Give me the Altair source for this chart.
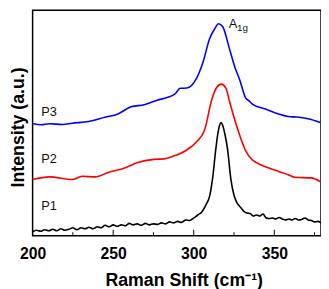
import altair as alt
import pandas as pd

# ---- data ----
p3_shift = [200, 205.3, 210.4, 218.5, 224.6, 234.8, 244.9, 253, 261.2, 269.3, 277.4, 283.5,
            288.6, 291.6, 295.7, 301.8, 305.9, 309.9, 313, 315.4, 318.1, 322.1, 326.2, 328.2,
            332.3, 334.3, 336.4, 344.5, 352.6, 358.7, 364, 370.9, 378.7]
p3_int = [114, 112.7, 113.7, 113, 114.3, 116, 120.3, 123.7, 131, 133, 137.7, 140.3,
          144.3, 149.7, 150, 160, 177, 200.3, 210, 215.3, 212, 190.3, 168, 160,
          139.7, 137, 133.7, 128.7, 123.7, 121, 120.5, 118.7, 115]

p2_shift = [200, 210.4, 224.6, 230.7, 238.8, 247, 257.1, 265.2, 275.4, 281.5, 287.6, 294.7,
            301.8, 306.9, 311, 314, 317.1, 320, 322.1, 327.3, 332, 336.4, 339.5, 344.5,
            352.6, 358.7, 362.8, 373, 378.7]
p2_int = [57, 59.7, 57, 60.3, 59.7, 64.3, 68.7, 74.3, 77.5, 78, 81, 86,
          95.3, 108, 137, 150, 154, 150, 137, 108, 87, 77, 73.7, 70,
          65.3, 62, 59.3, 58.7, 54.7]

p1_shift = [200, 202.5, 205, 207.5, 210, 212.5, 215, 217.5, 220, 222.5, 225, 227.5, 230, 232.5,
            235, 237.5, 240, 242.5, 245, 247.5, 250, 252.5, 255, 257.5, 260, 262.5, 265, 267.5,
            270, 272.5, 275, 277.5, 280, 282.5, 285, 287.5, 290, 292.5, 295, 297.5, 300, 302.5,
            305, 307.5, 310, 312, 313.5, 315, 316, 317, 318, 319.5, 321, 323, 325, 327, 329,
            331, 333, 335, 337, 339, 341, 343, 345, 347, 349, 351, 353, 355, 357, 359, 361,
            363, 365, 367, 369, 371, 373, 375, 377, 379]
p1_int = [4, 5.5, 4.5, 6, 5, 6.5, 5, 7, 5.5, 6.5, 8, 6, 8, 7,
          8.5, 7, 9, 8, 10.5, 9, 11, 9.5, 11, 10, 12.5, 11, 12, 10.5,
          12.5, 11, 12, 11.5, 13, 12, 14, 13, 14.5, 13.5, 16, 15.5, 18, 21,
          24, 31, 41, 62, 85, 104, 112, 115, 112, 102, 88, 58, 41, 33, 29,
          25, 23, 22.5, 20, 21, 20, 22, 18, 17.5, 18, 17, 18.5, 17, 16, 17, 16,
          17.5, 16, 16.5, 18, 16, 15.5, 14, 14.5, 13]

series_names = ["P1", "P2", "P3"]
series_colors = ["#000000", "#ff0000", "#0000ff"]
label_shift = [205.3, 205.3, 205.3]
label_int = [30, 78, 126]

major_ticks = [200, 250, 300, 350]
minor_ticks = [225, 275, 325, 375]

peak_label_shift = [321.7]
peak_label_int = [215]

W, H = 293, 229

rows = []
for name, xs, ys in [("P1", p1_shift, p1_int), ("P2", p2_shift, p2_int), ("P3", p3_shift, p3_int)]:
    for x, y in zip(xs, ys):
        rows.append({"shift": x, "intensity": y, "series": name})
df = pd.DataFrame(rows)

xscale = alt.Scale(domain=[200, 379], nice=False, zero=False)
yscale = alt.Scale(domain=[0, 229], nice=False, zero=False)

xaxis = alt.Axis(values=major_ticks, title="Raman Shift (cm⁻¹)", grid=False, domain=False,
                 ticks=False, labelFlush=False,
                 labelFont="Liberation Sans", labelFontSize=16, labelFontWeight="bold",
                 labelColor="black", labelPadding=10,
                 titleFont="Liberation Sans", titleFontSize=18, titleFontWeight="bold",
                 titleColor="black", titlePadding=11, titleX=W / 2 + 7)
yaxis = alt.Axis(title="Intensity (a.u.)", grid=False, domain=False, ticks=False, labels=False,
                 titleFont="Liberation Sans", titleFontSize=18, titleFontWeight="bold",
                 titleColor="black", titlePadding=5, titleY=H / 2 + 4)

lines = alt.Chart(df).mark_line(strokeWidth=1.6, interpolate="monotone").encode(
    x=alt.X("shift:Q", scale=xscale, axis=xaxis),
    y=alt.Y("intensity:Q", scale=yscale, axis=yaxis),
    color=alt.Color("series:N", scale=alt.Scale(domain=series_names, range=series_colors), legend=None),
    detail="series:N",
)

lab_df = pd.DataFrame({"shift": label_shift, "intensity": label_int, "text": series_names})
labels = alt.Chart(lab_df).mark_text(align="left", baseline="middle", font="Liberation Sans",
                                     fontSize=13, color="#111111").encode(
    x=alt.X("shift:Q", scale=xscale), y=alt.Y("intensity:Q", scale=yscale), text="text:N")

pk_df = pd.DataFrame({"shift": peak_label_shift, "intensity": peak_label_int, "a": ["A"], "sub": ["1g"]})
peak_a = alt.Chart(pk_df).mark_text(align="left", baseline="middle", font="Liberation Sans",
                                    fontSize=13, color="#111111").encode(
    x=alt.X("shift:Q", scale=xscale), y=alt.Y("intensity:Q", scale=yscale), text="a:N")
peak_sub = alt.Chart(pk_df).mark_text(align="left", baseline="middle", font="Liberation Sans",
                                      fontSize=10, color="#111111", dx=8.5, dy=4).encode(
    x=alt.X("shift:Q", scale=xscale), y=alt.Y("intensity:Q", scale=yscale), text="sub:N")

major_df = pd.DataFrame({"v": major_ticks})
major = alt.Chart(major_df).mark_rule(color="black", strokeWidth=1).encode(
    x=alt.X("v:Q", scale=xscale), y=alt.value(H - 6), y2=alt.value(H))

minor_df = pd.DataFrame({"v": minor_ticks})
minor = alt.Chart(minor_df).mark_rule(color="black", strokeWidth=1).encode(
    x=alt.X("v:Q", scale=xscale), y=alt.value(H - 3.5), y2=alt.value(H))

chart = alt.layer(lines, labels, peak_a, peak_sub, major, minor).properties(
    width=W, height=H,
    autosize=alt.AutoSizeParams(type="none"),
    padding={"left": 25, "top": 0, "right": 0, "bottom": 60},
).configure_view(stroke="black", strokeWidth=1.5)

chart.save("out.html", embed_options={"renderer": "svg", "actions": False})
